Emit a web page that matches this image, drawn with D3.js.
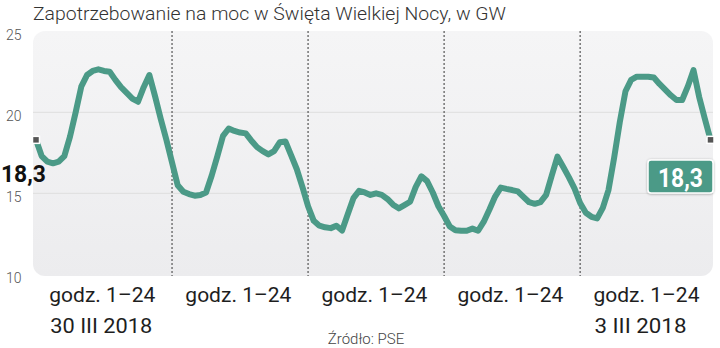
<!DOCTYPE html>
<html>
<head>
<meta charset="utf-8">
<script src="https://cdn.jsdelivr.net/npm/d3@7"></script>
<style>
  html, body { margin: 0; padding: 0; background: #fff; }
  svg { display: block; font-family: Roboto, "Noto Sans", sans-serif; }
</style>
</head>
<body>
<svg id="chart" width="720" height="348"></svg>
<script>
// Hourly power demand (GW), five consecutive days, hours 1–24 each
const day1 = [18.3, 17.3, 16.95, 16.85, 16.95, 17.3, 18.5, 20.0, 21.6, 22.3, 22.55, 22.65,
              22.55, 22.5, 22.0, 21.55, 21.2, 20.85, 20.65, 21.55, 22.3, 21.0, 19.6, 18.3];
const day2 = [16.9, 15.5, 15.1, 14.95, 14.85, 14.9, 15.05, 16.1, 17.3, 18.55, 19.0, 18.85,
              18.75, 18.7, 18.25, 17.85, 17.6, 17.4, 17.6, 18.15, 18.2, 17.35, 16.5, 15.4];
const day3 = [14.2, 13.3, 13.0, 12.9, 12.85, 13.0, 12.7, 13.7, 14.7, 15.15, 15.05, 14.9,
              15.0, 14.9, 14.65, 14.3, 14.07, 14.27, 14.48, 15.4, 16.05, 15.75, 15.05, 14.2];
const day4 = [13.6, 12.95, 12.72, 12.69, 12.69, 12.82, 12.69, 13.25, 14.0, 14.8, 15.35, 15.27,
              15.2, 15.12, 14.78, 14.45, 14.35, 14.45, 14.9, 16.1, 17.26, 16.64, 16.0, 15.3];
const day5 = [14.4, 13.8, 13.55, 13.45, 14.1, 15.2, 17.2, 19.4, 21.3, 22.0, 22.2, 22.2,
              22.2, 22.15, 21.75, 21.4, 21.05, 20.76, 20.76, 21.6, 22.6, 20.95, 19.6, 18.3];

const days = [day1, day2, day3, day4, day5];
const dayLabels = ["godz. 1–24", "godz. 1–24", "godz. 1–24", "godz. 1–24", "godz. 1–24"];
const dateLabels = ["30 III 2018", "", "", "", "3 III 2018"];
const yTicks = [10, 15, 20, 25];
const titleText = "Zapotrzebowanie na moc w Święta Wielkiej Nocy, w GW";
const sourceText = "Źródło: PSE";

const demand = days.flat();
const hoursPerDay = 24;

const svg = d3.select("#chart");
const teal = "#4b9a87";

const plot = { left: 33, right: 713, top: 31, bottom: 276 };

const x = d3.scaleLinear().domain([0, demand.length - 1]).range([36, 710.5]);
const y = d3.scaleLinear().domain([10, 25]).range([274.3, 31.3]);

// Background panel
const defs = svg.append("defs");
const grad = defs.append("linearGradient").attr("id", "panelGrad")
  .attr("x1", 0).attr("y1", 0).attr("x2", 0).attr("y2", 1);
grad.append("stop").attr("offset", "0%").attr("stop-color", "#f5f5f6");
grad.append("stop").attr("offset", "100%").attr("stop-color", "#ececee");

const shadow = defs.append("filter").attr("id", "boxShadow")
  .attr("x", "-20%").attr("y", "-30%").attr("width", "140%").attr("height", "160%");
shadow.append("feDropShadow").attr("dx", 0).attr("dy", 0.5)
  .attr("stdDeviation", 1).attr("flood-color", "#000").attr("flood-opacity", 0.35);

svg.append("rect")
  .attr("x", plot.left).attr("y", plot.top)
  .attr("width", plot.right - plot.left).attr("height", plot.bottom - plot.top)
  .attr("rx", 12).attr("fill", "url(#panelGrad)");

// Title
svg.append("text")
  .attr("x", 33).attr("y", 20)
  .attr("font-size", 19).attr("font-weight", 300).attr("fill", "#333")
  .attr("textLength", 473).attr("lengthAdjust", "spacingAndGlyphs")
  .text(titleText);

// Horizontal gridlines (inner ticks only)
svg.append("g").selectAll("line")
  .data(yTicks.filter(t => t > 10 && t < 25))
  .join("line")
  .attr("x1", plot.left).attr("x2", plot.right)
  .attr("y1", d => y(d)).attr("y2", d => y(d))
  .attr("stroke", "#dedede").attr("stroke-width", 1);

// Y axis tick labels
const yAxis = d3.axisLeft(y).tickValues(yTicks).tickSize(0).tickFormat(d3.format("d"));
const yAxisG = svg.append("g").attr("transform", "translate(6,0)").call(yAxis);
yAxisG.select(".domain").remove();
yAxisG.selectAll("text")
  .attr("x", 0).attr("dy", "0.55em")
  .attr("text-anchor", "start")
  .attr("font-family", "Roboto, sans-serif")
  .attr("font-size", 14).attr("font-weight", 300).attr("fill", "#555");

// Day separators (dotted)
svg.append("g").selectAll("line")
  .data(d3.range(1, days.length))
  .join("line")
  .attr("x1", d => x(d * hoursPerDay)).attr("x2", d => x(d * hoursPerDay))
  .attr("y1", plot.top).attr("y2", plot.bottom)
  .attr("stroke", "#555").attr("stroke-width", 1.2)
  .attr("stroke-dasharray", "2,2");

// Demand line
const line = d3.line().x((d, i) => x(i)).y(d => y(d));
svg.append("path")
  .datum(demand)
  .attr("d", line)
  .attr("fill", "none")
  .attr("stroke", teal)
  .attr("stroke-width", 6)
  .attr("stroke-linejoin", "round")
  .attr("stroke-linecap", "round");

// End-point markers
const ends = [0, demand.length - 1];
svg.append("g").selectAll("rect")
  .data(ends)
  .join("rect")
  .attr("x", i => x(i) - 3.5).attr("y", i => y(demand[i]) - 3.5)
  .attr("width", 7).attr("height", 7)
  .attr("fill", "#555").attr("stroke", "#fff").attr("stroke-width", 1.5);

const fmt = v => d3.format(".1f")(v).replace(".", ",");

// First value label
svg.append("text")
  .attr("x", 1).attr("y", 181.5)
  .attr("font-size", 23).attr("font-weight", 700).attr("fill", "#111")
  .attr("textLength", 45).attr("lengthAdjust", "spacingAndGlyphs")
  .text(fmt(demand[0]));

// Last value label in a badge
const lastI = demand.length - 1;
const badge = svg.append("g").attr("filter", "url(#boxShadow)");
badge.append("rect")
  .attr("x", 648).attr("y", 160).attr("width", 65).attr("height", 33)
  .attr("rx", 3).attr("fill", teal).attr("stroke", "#fff").attr("stroke-width", 1.5);
svg.append("text")
  .attr("x", 680.5).attr("y", 186.5)
  .attr("text-anchor", "middle")
  .attr("font-size", 26).attr("font-weight", 700).attr("fill", "#fff")
  .attr("textLength", 45).attr("lengthAdjust", "spacingAndGlyphs")
  .text(fmt(demand[lastI]));

// Bottom labels: hours per day and dates
const dayCenter = k => x(k * hoursPerDay + 11.7);
svg.append("g").selectAll("text")
  .data(dayLabels)
  .join("text")
  .attr("x", (d, k) => dayCenter(k)).attr("y", 302)
  .attr("text-anchor", "middle")
  .attr("font-size", 21).attr("fill", "#1e1e1e")
  .attr("textLength", 106).attr("lengthAdjust", "spacingAndGlyphs")
  .text(d => d);

svg.append("g").selectAll("text")
  .data(dateLabels)
  .join("text")
  .attr("x", (d, k) => k === 0 ? dayCenter(k) - 1 : dayCenter(k) - 6).attr("y", 333)
  .attr("text-anchor", "middle")
  .attr("font-size", 21).attr("fill", "#1e1e1e")
  .attr("textLength", d => d.length > 10 ? 102 : 92).attr("lengthAdjust", "spacingAndGlyphs")
  .text(d => d);

// Source
svg.append("text")
  .attr("x", 366).attr("y", 344)
  .attr("text-anchor", "middle")
  .attr("font-size", 15).attr("font-weight", 300).attr("fill", "#444")
  .text(sourceText);
</script>
</body>
</html>
